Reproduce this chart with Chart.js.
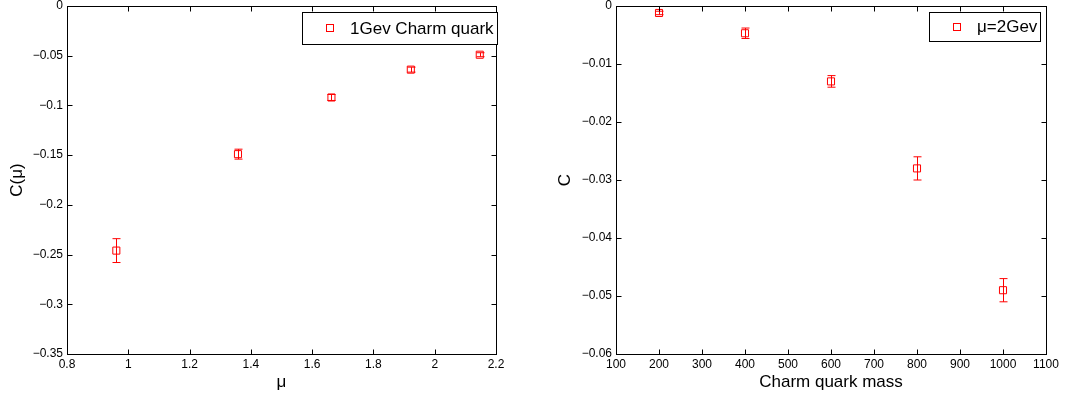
<!DOCTYPE html>
<html><head><meta charset="utf-8">
<script src="https://cdn.jsdelivr.net/npm/chart.js@4.4.1/dist/chart.umd.min.js"></script>
<style>
html,body{margin:0;padding:0;background:#fff;}
#wrap{position:relative;width:1078px;height:399px;overflow:hidden;}
canvas{position:absolute;top:0;}
#left{left:0;} #right{left:540px;}
</style></head><body>
<div id="wrap">
<canvas id="left" width="540" height="399"></canvas>
<canvas id="right" width="538" height="399"></canvas>
</div>
<script>
// ---- data ----
const muValues   = [0.961, 1.358, 1.663, 1.922, 2.147];
const cMuValues  = [-0.246, -0.149, -0.092, -0.064, -0.049];
const cMuErrors  = [0.012, 0.005, 0.003, 0.0025, 0.002];
const massValues  = [200, 400, 600, 800, 1000];
const cMassValues = [-0.0012, -0.0047, -0.013, -0.028, -0.049];
const cMassErrors = [0.0003, 0.0009, 0.001, 0.002, 0.002];
const muTicks    = [0.8, 1, 1.2, 1.4, 1.6, 1.8, 2, 2.2];
const cMuTicks   = [0, -0.05, -0.1, -0.15, -0.2, -0.25, -0.3, -0.35];
const massTicks  = [100, 200, 300, 400, 500, 600, 700, 800, 900, 1000, 1100];
const cMassTicks = [0, -0.01, -0.02, -0.03, -0.04, -0.05, -0.06];
const leftLegend  = '1Gev Charm quark';
const rightLegend = 'μ=2Gev';
const leftXTitle = 'μ', leftYTitle = 'C(μ)';
const rightXTitle = 'Charm quark mass', rightYTitle = 'C';

const FONT = '"Liberation Sans", Arial, Helvetica, sans-serif';
const RED = '#ff0000';

function fmt(v){
  let s = String(parseFloat(v.toFixed(6)));
  return s.replace('-', '\u2212');
}

const frameAndErrors = {
  id: 'frameAndErrors',
  afterDatasetsDraw(chart, args, opts){
    const ctx = chart.ctx;
    const xs = chart.scales.x, ys = chart.scales.y;
    const ds = chart.data.datasets[0];
    const errs = opts.errors || [];
    ctx.save();
    ctx.strokeStyle = RED; ctx.lineWidth = 1;
    ds.data.forEach((p, i) => {
      const e = errs[i] || 0;
      const px = Math.round(xs.getPixelForValue(p.x)) + 0.5;
      const y1 = ys.getPixelForValue(p.y + e), y2 = ys.getPixelForValue(p.y - e);
      ctx.beginPath();
      ctx.moveTo(px, y1); ctx.lineTo(px, y2);
      ctx.moveTo(px - 4, y1); ctx.lineTo(px + 4, y1);
      ctx.moveTo(px - 4, y2); ctx.lineTo(px + 4, y2);
      ctx.stroke();
    });
    ctx.restore();
  },
  afterDraw(chart, args, opts){
    const ctx = chart.ctx, a = chart.chartArea;
    const xs = chart.scales.x, ys = chart.scales.y;
    ctx.save();
    ctx.strokeStyle = '#000'; ctx.lineWidth = 1;
    const L = Math.round(a.left) + 0.5, R = Math.round(a.right) + 0.5;
    const T = Math.round(a.top) + 0.5, B = Math.round(a.bottom) + 0.5;
    ctx.strokeRect(L, T, R - L, B - T);
    const tl = 5;
    ctx.beginPath();
    xs.ticks.forEach(t => {
      const px = Math.round(xs.getPixelForValue(t.value)) + 0.5;
      ctx.moveTo(px, B); ctx.lineTo(px, B - tl);
      ctx.moveTo(px, T); ctx.lineTo(px, T + tl);
    });
    ys.ticks.forEach(t => {
      const py = Math.round(ys.getPixelForValue(t.value)) + 0.5;
      ctx.moveTo(L, py); ctx.lineTo(L + tl, py);
      ctx.moveTo(R, py); ctx.lineTo(R - tl, py);
    });
    ctx.stroke();
    const lg = opts.legend;
    if (lg) {
      ctx.font = '17px ' + FONT;
      const label = chart.data.datasets[0].label;
      const tw = ctx.measureText(label).width;
      const right = a.right + lg.dx;
      const left = Math.round(right - tw - 51);
      const top = Math.round(a.top + lg.dy);
      ctx.fillStyle = '#fff';
      ctx.fillRect(left + 0.5, top + 0.5, right - left, lg.h);
      ctx.strokeStyle = '#000';
      ctx.strokeRect(left + 0.5, top + 0.5, Math.round(right - left), lg.h);
      const cy = top + lg.h / 2;
      ctx.strokeStyle = RED;
      ctx.strokeRect(left + 24.5, Math.round(cy) - 3.5, 7, 7);
      ctx.fillStyle = '#000';
      ctx.textBaseline = 'middle'; ctx.textAlign = 'left';
      ctx.fillText(label, left + 48, cy + 1);
    }
    ctx.restore();
  }
};

function makeChart(id, cfg){
  const pts = cfg.xv.map((x, i) => ({x: x, y: cfg.yv[i]}));
  return new Chart(document.getElementById(id), {
    type: 'scatter',
    data: { datasets: [{
      label: cfg.label, data: pts,
      pointStyle: 'rect', pointRadius: 5, pointHoverRadius: 5,
      borderColor: RED, backgroundColor: 'rgba(0,0,0,0)', borderWidth: 1,
      showLine: false
    }]},
    options: {
      responsive: false, animation: false, events: [],
      layout: { padding: cfg.pad },
      plugins: {
        legend: { display: false }, tooltip: { enabled: false },
        frameAndErrors: { errors: cfg.err, legend: cfg.legend }
      },
      scales: {
        x: {
          type: 'linear', min: cfg.xt[0], max: cfg.xt[cfg.xt.length - 1],
          afterBuildTicks: s => { s.ticks = cfg.xt.map(v => ({value: v})); },
          afterFit: s => { s.height = cfg.xh; s.paddingLeft = 0; s.paddingRight = 0; },
          grid: { display: false, drawTicks: false, tickLength: 0 },
          border: { display: false },
          ticks: { color: '#000', font: { family: FONT, size: 12 }, padding: 3,
                   maxRotation: 0, autoSkip: false, callback: v => fmt(v) },
          title: { display: true, text: cfg.xTitle, color: '#000',
                   font: { family: FONT, size: 17 }, padding: 0 }
        },
        y: {
          type: 'linear', min: cfg.yt[cfg.yt.length - 1], max: cfg.yt[0],
          afterBuildTicks: s => { s.ticks = cfg.yt.map(v => ({value: v})); },
          afterFit: s => { s.width = cfg.yw; s.paddingTop = 0; s.paddingBottom = 0; },
          grid: { display: false, drawTicks: false, tickLength: 0 },
          border: { display: false },
          ticks: { color: '#000', font: { family: FONT, size: 12 }, padding: 4,
                   autoSkip: false, callback: v => fmt(v) },
          title: { display: true, text: cfg.yTitle, color: '#000',
                   font: { family: FONT, size: 17 }, padding: 0 }
        }
      }
    },
    plugins: [frameAndErrors]
  });
}

makeChart('left', {
  xv: muValues, yv: cMuValues, err: cMuErrors, xt: muTicks, yt: cMuTicks,
  label: leftLegend, xTitle: leftXTitle, yTitle: leftYTitle,
  pad: { left: 7, right: 44, top: 4, bottom: 6 }, yw: 60, xh: 39,
  legend: { dx: 1, dy: 6, h: 32 }
});
makeChart('right', {
  xv: massValues, yv: cMassValues, err: cMassErrors, xt: massTicks, yt: cMassTicks,
  label: rightLegend, xTitle: rightXTitle, yTitle: rightYTitle,
  pad: { left: 15, right: 32, top: 4, bottom: 6 }, yw: 61, xh: 39,
  legend: { dx: -6, dy: 6, h: 29 }
});
</script>
</body></html>
